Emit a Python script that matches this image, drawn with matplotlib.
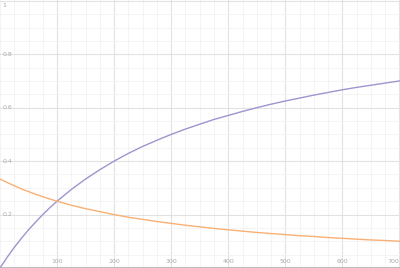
#!/usr/bin/env python3
# -*- coding: utf-8 -*-

import matplotlib
matplotlib.use("Agg")
import matplotlib.pyplot as plt
from matplotlib.ticker import MultipleLocator

DPI = 100

# values
x_values = [0, 12.5, 25, 37.5, 50, 62.5, 75, 87.5, 100, 125, 150, 175, 200,
            225, 250, 275, 300, 325, 350, 375, 400, 425, 450, 475, 500, 525,
            550, 575, 600, 625, 650, 675, 700]
purple_values = [0.0, 0.04, 0.077, 0.111, 0.143, 0.172, 0.2, 0.226, 0.25,
                 0.294, 0.333, 0.368, 0.4, 0.429, 0.455, 0.478, 0.5, 0.52,
                 0.538, 0.556, 0.571, 0.586, 0.6, 0.613, 0.625, 0.636, 0.647,
                 0.657, 0.667, 0.676, 0.684, 0.692, 0.7]
orange_values = [0.333, 0.32, 0.308, 0.296, 0.286, 0.276, 0.267, 0.258, 0.25,
                 0.235, 0.222, 0.211, 0.2, 0.19, 0.182, 0.174, 0.167, 0.16,
                 0.154, 0.148, 0.143, 0.138, 0.133, 0.129, 0.125, 0.121, 0.118,
                 0.114, 0.111, 0.108, 0.105, 0.103, 0.1]
x_ticks = [100, 200, 300, 400, 500, 600, 700]
y_ticks = [0.2, 0.4, 0.6, 0.8, 1]
y_tick_labels = ["0.2", "0.4", "0.6", "0.8", "1"]

fig = plt.figure(figsize=(400 / DPI, 268 / DPI), dpi=DPI)
ax = fig.add_axes([0, 0, 1, 1])

ax.plot(x_values, purple_values, color="#a193cf", linewidth=1.0)
ax.plot(x_values, orange_values, color="#f9b074", linewidth=1.0)

ax.set_xlim(0, 701)
ax.set_ylim(0, 1.003)

ax.xaxis.set_minor_locator(MultipleLocator(25))
ax.yaxis.set_minor_locator(MultipleLocator(0.05))
ax.set_xticks(x_ticks)
ax.set_yticks(y_ticks)
ax.grid(True, which="major", color="#e2e2e2", linewidth=0.8)
ax.grid(True, which="minor", color="#f3f3f3", linewidth=0.6)
ax.set_axisbelow(True)

# labels drawn inside the plot area
ax.set_xticklabels([])
ax.set_yticklabels([])
ax.tick_params(which="both", length=0)
for t in x_ticks:
    ha = "center" if t < 700 else "right"
    xx = t if t < 700 else 699
    ax.text(xx, 0.025, str(t), ha=ha, va="center", fontsize=4.5,
            color="#aaaaaa")
for t, lab in zip(y_ticks, y_tick_labels):
    yy = t if t < 1 else 0.983
    ax.text(4, yy, lab, ha="left", va="center", fontsize=4.5, color="#aaaaaa")

for side in ["top", "right", "left"]:
    ax.spines[side].set_visible(False)
ax.spines["bottom"].set_color("#b0b0b0")
ax.spines["bottom"].set_linewidth(1.2)

plt.savefig("out.png", dpi=DPI)
